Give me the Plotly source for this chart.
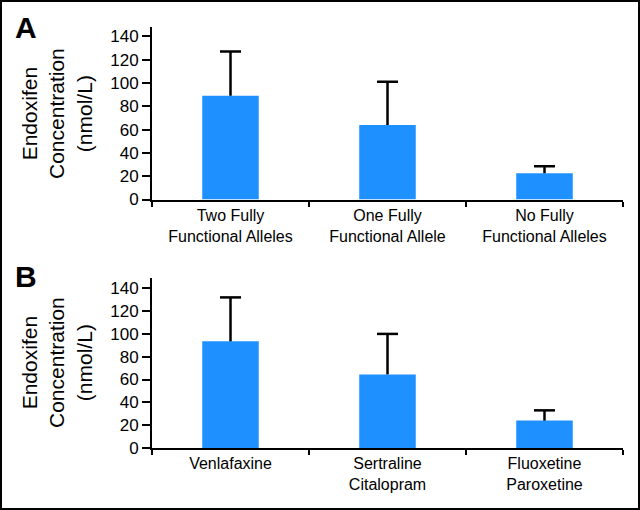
import plotly.graph_objects as go

# ---- data ----
cats_a = ["Two Fully<br>Functional Alleles", "One Fully<br>Functional Allele", "No Fully<br>Functional Alleles"]
mean_a = [89, 64, 22.5]
sd_a = [38, 37, 6]

cats_b = ["Venlafaxine", "Sertraline<br>Citalopram", "Fluoxetine<br>Paroxetine"]
mean_b = [93.5, 64.5, 24]
sd_b = [38.5, 35.5, 9]

yticks = [0, 20, 40, 60, 80, 100, 120, 140]
ytitle = "Endoxifen<br>Concentration<br>(nmol/L)"
panel_labels = ["A", "B"]

BLUE = "#1E90FF"
W, H = 640, 510
ML, MR, MT, MB = 152, 17, 27, 62
PW, PH = W - ML - MR, H - MT - MB


def px_x(p):
    return (p - ML) / PW


def px_y(p):
    return (H - MB - p) / PH


fig = go.Figure()

for cats, means, sds, xa, ya in [(cats_a, mean_a, sd_a, "x", "y"), (cats_b, mean_b, sd_b, "x2", "y2")]:
    fig.add_trace(go.Bar(x=cats, y=means, marker=dict(color=BLUE, line=dict(width=0)),
                         width=0.36, xaxis=xa, yaxis=ya, showlegend=False, hoverinfo="skip"))
    # error stems (upper only)
    sx, sy = [], []
    for c, m, s in zip(cats, means, sds):
        sx += [c, c, None]
        sy += [m, m + s, None]
    fig.add_trace(go.Scatter(x=sx, y=sy, mode="lines", line=dict(color="black", width=2.5),
                             xaxis=xa, yaxis=ya, showlegend=False, hoverinfo="skip"))
    fig.add_trace(go.Scatter(x=cats, y=[m + s for m, s in zip(means, sds)], mode="markers",
                             marker=dict(symbol="line-ew", size=15, line=dict(color="black", width=2.5)),
                             xaxis=xa, yaxis=ya, showlegend=False, hoverinfo="skip"))

tickfont = dict(family="Liberation Sans, Arial, sans-serif", size=17, color="black")
catfont = dict(family="Liberation Sans, Arial, sans-serif", size=16, color="black")

yax = dict(tickvals=yticks, ticks="outside", ticklen=8, tickwidth=2, tickcolor="black",
           showline=True, linewidth=2, linecolor="black", showgrid=False, zeroline=False,
           tickfont=tickfont)
xax = dict(type="category", tickson="boundaries", ticks="outside", ticklen=5, tickwidth=2,
           tickcolor="black", showline=True, linewidth=2, linecolor="black", showgrid=False,
           tickfont=catfont)

fig.update_layout(
    width=W, height=H,
    margin=dict(l=ML, r=MR, t=MT, b=MB),
    paper_bgcolor="white", plot_bgcolor="white",
    bargap=0.64,
    xaxis=dict(**xax, domain=[0, 1], anchor="y"),
    yaxis=dict(**yax, domain=[px_y(199.5), 1], range=[0, 148], anchor="x"),
    xaxis2=dict(**xax, domain=[0, 1], anchor="y2"),
    yaxis2=dict(**yax, domain=[0, px_y(278)], range=[0, 149], anchor="x2"),
)

anns = []
for lab, cy, tcy in [(panel_labels[0], 27, 114), (panel_labels[1], 276, 363)]:
    anns.append(dict(text="<b>%s</b>" % lab, x=px_x(26), y=px_y(cy), xref="paper", yref="paper",
                     xanchor="center", yanchor="middle", showarrow=False,
                     font=dict(family="Liberation Sans, Arial, sans-serif", size=30, color="black")))
    anns.append(dict(text=ytitle, x=px_x(57), y=px_y(tcy), xref="paper", yref="paper",
                     xanchor="center", yanchor="middle", showarrow=False, textangle=-90,
                     font=dict(family="Liberation Sans, Arial, sans-serif", size=21, color="black")))
fig.update_layout(annotations=anns)

fig.add_shape(type="rect", xref="paper", yref="paper",
              x0=px_x(1), x1=px_x(639), y0=px_y(509), y1=px_y(1),
              line=dict(color="black", width=2), fillcolor="rgba(0,0,0,0)", layer="above")

fig.write_html("out.html", config={"displayModeBar": False},
               post_script="document.body.style.margin='0';document.body.style.overflow='hidden';")
